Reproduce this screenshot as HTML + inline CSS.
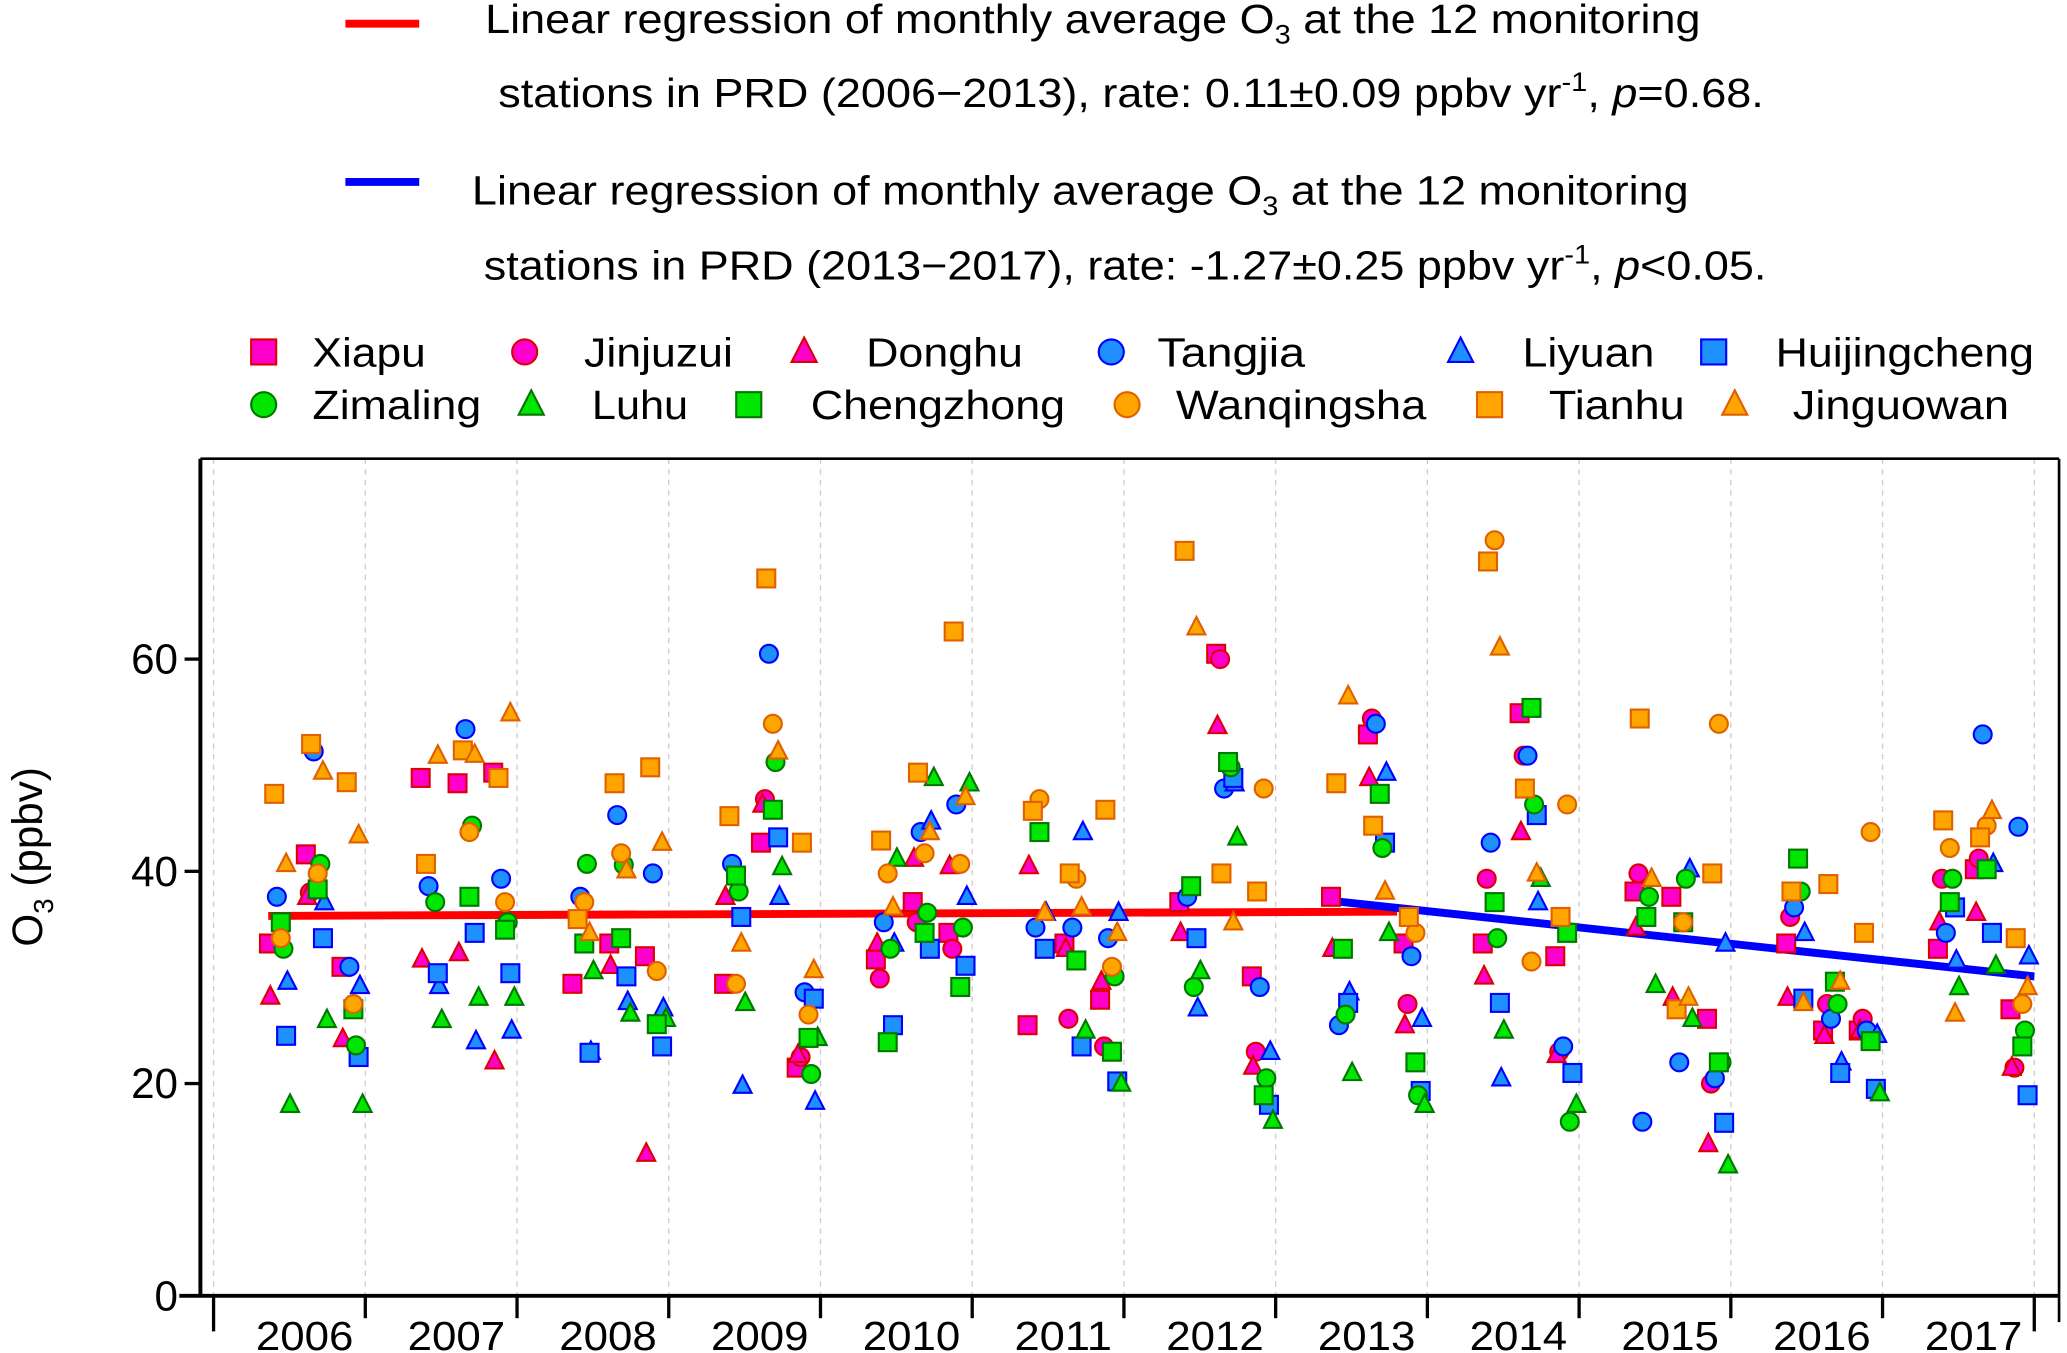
<!DOCTYPE html>
<html><head><meta charset="utf-8"><style>
html,body{margin:0;padding:0;background:#fff;}
svg{display:block;font-family:"Liberation Sans",Arial,sans-serif;}
</style></head><body>
<svg id="chart" width="2067" height="1353" viewBox="0 0 1568 1026.4" xmlns="http://www.w3.org/2000/svg">
<g id="legend-top">
<line x1="262" y1="18" x2="318" y2="18" stroke="#ff0000" stroke-width="6"/>
<text x="368" y="25" font-size="31" textLength="922" lengthAdjust="spacingAndGlyphs">Linear regression of monthly average O<tspan font-size="20" dy="8">3</tspan><tspan dy="-8"> at the 12 monitoring</tspan></text>
<text x="378" y="81" font-size="31" textLength="960" lengthAdjust="spacingAndGlyphs">stations in PRD (2006−2013), rate: 0.11±0.09 ppbv yr<tspan font-size="20" dy="-12">-1</tspan><tspan dy="12">, </tspan><tspan font-style="italic">p</tspan>=0.68.</text>
<line x1="262" y1="138" x2="318" y2="138" stroke="#0000ff" stroke-width="6"/>
<text x="358" y="155" font-size="31" textLength="923" lengthAdjust="spacingAndGlyphs">Linear regression of monthly average O<tspan font-size="20" dy="8">3</tspan><tspan dy="-8"> at the 12 monitoring</tspan></text>
<text x="367" y="212" font-size="31" textLength="973" lengthAdjust="spacingAndGlyphs">stations in PRD (2013−2017), rate: -1.27±0.25 ppbv yr<tspan font-size="20" dy="-12">-1</tspan><tspan dy="12">, </tspan><tspan font-style="italic">p</tspan>&lt;0.05.</text>
</g>
<g id="legend"></g>
<g id="grid"></g>
<g id="axes"></g>
<g id="lines"></g>
<g id="points"></g>
<text transform="translate(32,650) rotate(-90)" text-anchor="middle" font-size="32">O<tspan font-size="21" dy="8">3</tspan><tspan dy="-8"> (ppbv)</tspan></text>
</svg>
<script>
const stationNames=["Xiapu","Jinjuzui","Donghu","Tangjia","Liyuan","Huijingcheng","Zimaling","Luhu","Chengzhong","Wanqingsha","Tianhu","Jinguowan"];
const years=[2006,2007,2008,2009,2010,2011,2012,2013,2014,2015,2016,2017];
const yTicks=[0,20,40,60];
const seasonFrac=[0.365,0.608,0.843];
const xiapu=[33.2,41.6,31, 48.8,48.3,49.3, 29.4,33.2,32, 29.4,42.7,21.5, 31.7,37.1,34.2, 25.5,33.2,27.9, 37.1,60.5,30.1, 37.6,52.9,33.2, 33.2,54.9,32, 38.1,37.6,26.1, 33.2,25,25, 32.7,40.2,27];
const jinjuzui=[null,38,null, null,null,null, null,null,null, null,46.8,22.5, 29.9,35.2,32.7, null,26.1,23.5, null,60,23, null,54.4,27.5, 39.3,50.9,23, 39.8,null,20, 35.7,27.5,26.1, 39.3,41.2,21.5];
const donghu=[28.2,37.6,24.2, 31.7,32.3,22.1, null,31.1,13.4, 37.6,46.3,22.7, 33.2,41.2,40.5, 40.5,32.7,29.6, 34.2,53.7,21.6, 32.7,48.8,25.5, 30.1,43.7,22.7, 34.7,28.1,14.3, 28.1,24.5,25, 35.2,36.1,21.5];
const tangjia=[37.6,51.3,31, 38.6,53.4,39.3, 37.6,45.3,39.8, 40.7,60.5,28.6, 35.2,43.7,46.3, 34.7,34.7,33.7, 37.6,47.8,29.1, 25.5,53.9,32, 42.7,50.9,23.5, 16.4,22,20.5, 36.6,26.1,25, 34.2,52.9,44.2];
const liyuan=[29.6,37.1,29.2, 29.2,24,25, 23,27.7,27.1, 19.8,37.6,18.3, 33.2,44.7,37.6, 36.1,43.7,36.1, 27.1,48.3,23, 28.6,49.3,26.1, 20.5,37.1,null, null,40.2,33.2, 34.2,22,24.6, 31.6,40.7,32];
const huijingcheng=[24.5,33.7,22.5, 30.4,34.2,30.4, 22.9,30.1,23.5, 35.7,43.2,28, 25.5,32.7,31.1, 32.7,23.5,20.2, 33.7,48.8,18, 27.6,42.7,19.3, 27.6,45.3,21, null,null,16.3, 28,21,19.5, 36.6,34.2,18.9];
const zimaling=[32.7,40.7,23.6, 37.1,44.3,35.2, 40.7,40.6,null, 38.1,50.3,20.9, 32.7,36.1,34.7, null,null,30.1, 29.1,49.8,20.5, 26.5,42.2,18.9, 33.7,46.3,16.4, 37.6,39.3,22, 38.1,27.5,null, 39.3,null,25];
const luhu=[18,26,18, 26,28.1,28.1, 30.6,26.6,26.1, 27.6,40.4,24.3, 41.2,48.8,48.3, null,25,20, 30.6,43.2,16.5, 21,34.2,18, 25,39.3,18, 29.3,26.1,12.3, null,null,19.1, 29.1,31.1,null];
const chengzhong=[35.2,38.3,27, null,37.6,34.5, 33.2,33.7,25.6, 39.6,45.8,24.3, 23.9,34.2,29.1, 43.7,31.6,23, 38.6,50.3,18.9, 32.7,47.3,22, 37.1,55.4,34.2, 35.7,35.2,22, 41.2,29.6,24, 37.1,40.2,23.5];
const wanqingsha=[33.7,39.8,27.5, null,43.7,37.1, 37.1,41.7,30.6, 29.4,53.9,26.5, 39.8,41.7,40.7, 46.8,39.3,31, null,null,47.8, null,null,34.2, 71.2,31.5,46.3, null,35.2,53.9, null,null,43.7, 42.2,44.3,27.5];
const tianhu=[47.3,52,48.4, 40.7,51.4,48.8, 35.5,48.3,49.8, 45.2,67.6,42.7, 42.9,49.3,62.6, 45.7,39.8,45.8, 70.2,39.8,38.1, 48.3,44.3,35.7, 69.2,47.8,35.7, 54.4,27,39.8, 38.1,38.8,34.2, 44.8,43.2,33.7];
const jinguowan=[40.7,49.4,43.4, 50.9,51,54.9, 34.2,40.1,42.7, 33.2,51.3,30.7, 36.6,43.7,47, 36.1,36.6,34.2, 63,35.2,null, 56.5,38.1,null, 61.1,39.8,null, 39.3,28.1,null, 27.6,29.6,null, 26.6,45.7,29.1];
const regRedT=[2006.36,2013.8], regRedV=[35.8,36.2];
const regBlueT=[2013.38,2018.0], regBlueV=[37.2,30.1];

const series=[xiapu,jinjuzui,donghu,tangjia,liyuan,huijingcheng,zimaling,luhu,chengzhong,wanqingsha,tianhu,jinguowan];
const shapes=["sq","ci","tr","ci","tr","sq","ci","tr","sq","ci","sq","tr"];
const fills=["#ff00cc","#ff00cc","#ff00cc","#1e90ff","#1e90ff","#1e90ff","#00e600","#00e600","#00e600","#ffa500","#ffa500","#ffa500"];
const strokes=["#dd0000","#dd0000","#dd0000","#0000ff","#0000ff","#0000ff","#007700","#007700","#007700","#e06000","#e06000","#e06000"];
const stOff=[0,3,1,6,14,13,11,16,9,9,4,13];
const NS="http://www.w3.org/2000/svg";
const X0=162,YW=115.1,Y0=983,YS=8.05;
function xs(t){return X0+YW*(t-2006);}
function ys(v){return Y0-YS*v;}
function mk(tag,at,parent){const e=document.createElementNS(NS,tag);for(const k in at)e.setAttribute(k,at[k]);parent.appendChild(e);return e;}
function marker(parent,shape,cx,cy,r,fill,stroke){
  let e;
  if(shape==="sq")e=mk("rect",{x:cx-r,y:cy-r,width:2*r,height:2*r,fill:fill,stroke:stroke,"stroke-width":1.6},parent);
  else if(shape==="ci")e=mk("circle",{cx:cx,cy:cy,r:r,fill:fill,stroke:stroke,"stroke-width":1.6},parent);
  else e=mk("polygon",{points:`${cx},${cy-r*1.15} ${cx-r},${cy+r*0.8} ${cx+r},${cy+r*0.8}`,fill:fill,stroke:stroke,"stroke-width":1.6},parent);
  return e;
}
const grid=document.getElementById("grid");
for(let i=0;i<=years.length;i++){
  const l=mk("line",{x1:xs(2006+i),y1:348,x2:xs(2006+i),y2:Y0,stroke:"#cccccc","stroke-width":1,"stroke-dasharray":"4,4"},grid);
  
  
}
const ax=document.getElementById("axes");
const a1=mk("line",{x1:136,y1:Y0,x2:1562,y2:Y0,stroke:"#000","stroke-width":3},ax);


const a2=mk("line",{x1:152,y1:348,x2:152,y2:Y0,stroke:"#000","stroke-width":3},ax);


const a3=mk("line",{x1:1562,y1:348,x2:1562,y2:1003,stroke:"#000","stroke-width":2},ax);


const a4=mk("line",{x1:152,y1:348,x2:1562,y2:348,stroke:"#000","stroke-width":2},ax);


for(let i=0;i<=years.length;i++){
  const long=(i===0||i===years.length);
  const t=mk("line",{x1:xs(2006+i),y1:Y0,x2:xs(2006+i),y2:long?1010:1000,stroke:"#000","stroke-width":2.5},ax);
  
  
}
years.forEach((yr,i)=>{
  const t=mk("text",{x:xs(yr+0.6),y:1024,"font-size":31,"text-anchor":"middle","textLength":74,"lengthAdjust":"spacingAndGlyphs"},ax);
  t.textContent=yr;
  
  
});
yTicks.forEach(v=>{
  const t=mk("line",{x1:140,y1:ys(v),x2:152,y2:ys(v),stroke:"#000","stroke-width":2.5},ax);
  
  
  const l=mk("text",{x:135,y:ys(v)+11,"font-size":32,"text-anchor":"end"},ax);
  l.textContent=v;
  
  
});
const ln=document.getElementById("lines");
const r1=mk("line",{x1:xs(regRedT[0]),y1:ys(regRedV[0]),x2:xs(regRedT[1]),y2:ys(regRedV[1]),stroke:"#ff0000","stroke-width":6},ln);


const pg=document.getElementById("points");
series.forEach((arr,s)=>{
  arr.forEach((v,k)=>{
    if(v===null)return;
    const yr=years[Math.floor(k/3)],se=k%3;
    const cx=xs(yr+seasonFrac[se])+stOff[s],cy=ys(v);
    const m=marker(pg,shapes[s],cx,cy,6.8,fills[s],strokes[s]);
    
    
  });
});
const r2=mk("line",{x1:xs(regBlueT[0]),y1:ys(regBlueV[0]),x2:xs(regBlueT[1]),y2:ys(regBlueV[1]),stroke:"#0000ff","stroke-width":6},ln);


const lg=document.getElementById("legend");
const legM=[[200,267],[398,267],[610,267],[843,267],[1108,267],[1300,267],[200,307],[403,307],[568,307],[855,307],[1130,307],[1316,307]];
const legT=[237,443,657,878,1155,1347,237,449,615,892,1175,1360];
const legW=[86,113,119,112,100,196,128,73,193,190,103,164];
stationNames.forEach((n,s)=>{
  const g=mk("g",{},lg);
  
  
  const m=marker(g,shapes[s],legM[s][0],legM[s][1],9.5,fills[s],strokes[s]);
  
  
  const t=mk("text",{x:legT[s],y:legM[s][1]+11,"font-size":31,"textLength":legW[s],"lengthAdjust":"spacingAndGlyphs"},g);
  t.textContent=n;
  
  
});
</script>
</body></html>
